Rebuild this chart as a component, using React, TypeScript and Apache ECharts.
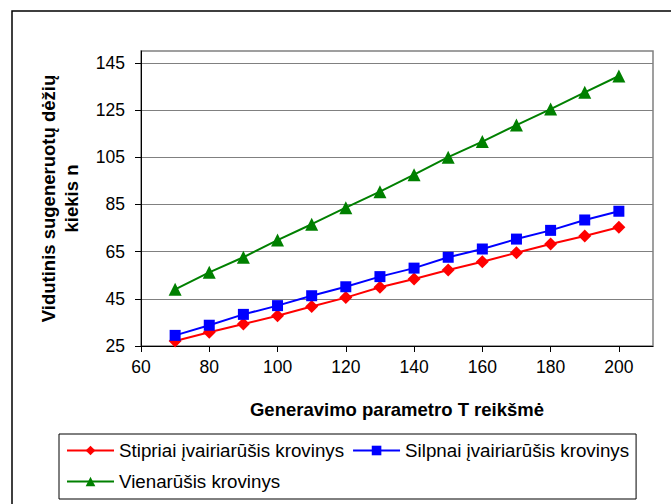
import React, { useEffect, useRef } from "react";
import * as echarts from "echarts";

const xValues = [70, 80, 90, 100, 110, 120, 130, 140, 150, 160, 170, 180, 190, 200];
const stipriai = [27.1, 30.8, 34.3, 37.8, 41.7, 45.5, 49.9, 53.4, 57.2, 60.7, 64.5, 68.2, 71.6, 75.3];
const silpnai = [29.5, 33.8, 38.4, 42.1, 46.3, 50.1, 54.4, 58.0, 62.6, 66.1, 70.3, 74.0, 78.4, 82.1];
const vienarusis = [49.0, 56.2, 62.6, 69.9, 76.6, 83.6, 90.4, 97.6, 105.0, 111.6, 118.6, 125.4, 132.5, 139.4];
const seriesNames = ["Stipriai įvairiarūšis krovinys", "Silpnai įvairiarūšis krovinys", "Vienarūšis krovinys"];
const xTicks = [60, 80, 100, 120, 140, 160, 180, 200];
const yTicks = [25, 45, 65, 85, 105, 125, 145];

const FONT = "Liberation Sans, Arial, sans-serif";

export default function App() {
  const ref = useRef<HTMLDivElement>(null);
  useEffect(() => {
    if (!ref.current) return;
    const chart = echarts.init(ref.current, undefined, { renderer: "svg" });
    const mk = (vals: number[]) => xValues.map((x, i) => [x, vals[i]]);
    chart.setOption({
      animation: false,
      backgroundColor: "#ffffff",
      textStyle: { fontFamily: FONT },
      graphic: [
        {
          type: "rect",
          shape: { x: 12, y: 11, width: 700, height: 600 },
          style: { fill: "none", stroke: "#000", lineWidth: 1.5 },
          silent: true,
        },
      ],
      grid: {
        left: 141,
        top: 51,
        right: 18,
        bottom: 158,
        show: true,
        borderColor: "#808080",
        borderWidth: 1.5,
        backgroundColor: "transparent",
      },
      legend: {
        left: 59,
        top: 434,
        width: 580,
        orient: "horizontal",
        padding: [5, 7, 6, 7],
        itemGap: 8,
        itemWidth: 47,
        itemHeight: 12,
        borderColor: "#000",
        borderWidth: 1,
        textStyle: { fontSize: 18.75, color: "#000", fontFamily: FONT, lineHeight: 23 },
        data: seriesNames,
      },
      xAxis: {
        type: "value",
        min: 60,
        max: 210,
        interval: 20,
        name: "Generavimo parametro T reikšmė",
        nameLocation: "middle",
        nameGap: 54,
        nameTextStyle: { fontSize: 18.5, fontWeight: "bold", color: "#000", fontFamily: FONT },
        axisLine: { show: true, lineStyle: { color: "#000", width: 1 } },
        axisTick: { show: true, length: 6, inside: false, lineStyle: { color: "#000" }, customValues: xTicks },
        axisLabel: { fontSize: 17.5, color: "#000", margin: 12, showMaxLabel: false, fontFamily: FONT },
        splitLine: { show: false },
      },
      yAxis: {
        type: "value",
        min: 25,
        max: 150,
        interval: 20,
        name: "Vidutinis sugeneruotų dėžių\nkiekis n",
        nameLocation: "middle",
        nameGap: 58,
        nameRotate: 90,
        nameTextStyle: { fontSize: 18.5, fontWeight: "bold", color: "#000", lineHeight: 23, fontFamily: FONT },
        axisLine: { show: true, lineStyle: { color: "#000", width: 1 } },
        axisTick: { show: true, length: 6, inside: false, lineStyle: { color: "#000" }, customValues: yTicks },
        axisLabel: { fontSize: 17.5, color: "#000", margin: 16, showMaxLabel: false, fontFamily: FONT },
        splitLine: { show: true, lineStyle: { color: "#808080", width: 1 } },
      },
      series: [
        {
          name: seriesNames[0],
          type: "line",
          data: mk(stipriai),
          symbol: "diamond",
          symbolSize: 13,
          itemStyle: { color: "#ff0000" },
          lineStyle: { color: "#ff0000", width: 2 },
        },
        {
          name: seriesNames[1],
          type: "line",
          data: mk(silpnai),
          symbol: "rect",
          symbolSize: 11,
          itemStyle: { color: "#0000ff" },
          lineStyle: { color: "#0000ff", width: 2 },
        },
        {
          name: seriesNames[2],
          type: "line",
          data: mk(vienarusis),
          symbol: "triangle",
          symbolSize: 13,
          itemStyle: { color: "#008000" },
          lineStyle: { color: "#008000", width: 2 },
        },
      ],
    });
    return () => chart.dispose();
  }, []);
  return (
    <div
      ref={ref}
      style={{ position: "absolute", left: 0, top: 0, width: 671, height: 504 }}
    />
  );
}
